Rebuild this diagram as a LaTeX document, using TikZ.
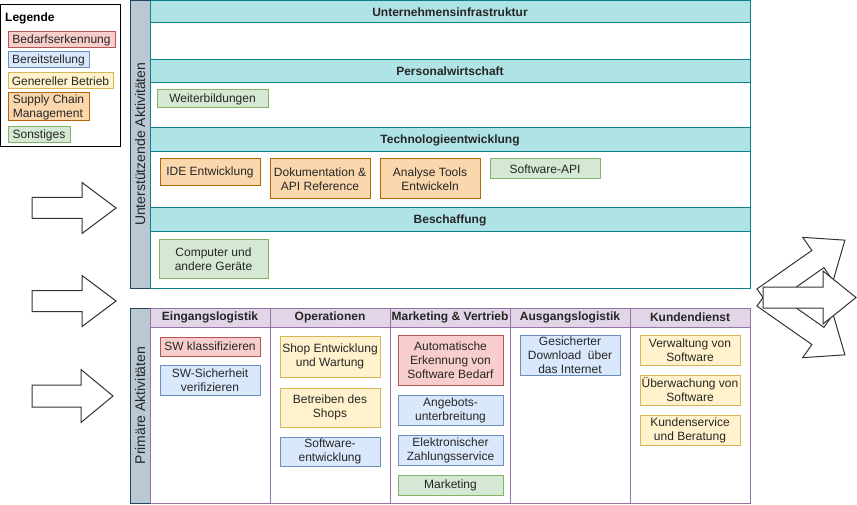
\documentclass[tikz,border=0pt]{standalone}
\usepackage{fontspec}
\setmainfont{Liberation Sans}
\definecolor{redF}{HTML}{F8CECC}\definecolor{redD}{HTML}{B85450}
\definecolor{bluF}{HTML}{DAE8FC}\definecolor{bluD}{HTML}{6C8EBF}
\definecolor{yelF}{HTML}{FFF2CC}\definecolor{yelD}{HTML}{D6B656}
\definecolor{oraF}{HTML}{FAD7AC}\definecolor{oraD}{HTML}{B46504}
\definecolor{grnF}{HTML}{D5E8D4}\definecolor{grnD}{HTML}{82B366}
\definecolor{teaF}{HTML}{B0E3E6}\definecolor{teaD}{HTML}{0E8088}
\definecolor{purF}{HTML}{E1D5E7}\definecolor{purD}{HTML}{9673A6}
\definecolor{barF}{HTML}{BAC8D3}\definecolor{barD}{HTML}{23445D}
\tikzset{
  base/.style={draw, line width=1pt, inner sep=0pt, align=center, anchor=center,
    font=\fontsize{12}{14}\selectfont, text=black!85},
  redbox/.style={base, fill=redF, draw=redD},
  blubox/.style={base, fill=bluF, draw=bluD},
  yelbox/.style={base, fill=yelF, draw=yelD},
  orabox/.style={base, fill=oraF, draw=oraD},
  grnbox/.style={base, fill=grnF, draw=grnD},
  thead/.style={base, fill=teaF, draw=teaD, font=\fontsize{12}{14}\selectfont\bfseries, minimum width=600},
  tbody/.style={base, fill=white, draw=teaD, minimum width=600},
  phead/.style={base, fill=purF, draw=purD, font=\fontsize{12}{14}\selectfont\bfseries, minimum width=120, minimum height=19},
  pbody/.style={base, fill=white, draw=purD, minimum width=120, minimum height=176},
  vbar/.style={base, fill=barF, draw=barD, rotate=90, minimum height=20, font=\fontsize{14}{16}\selectfont},
  barrow/.style={draw=black!80, fill=white, line width=1pt, line join=miter},
}
\newcommand{\blkarrow}[8]{% x,y,rot,L,w,H,h,name
  \begin{scope}[shift={(#1,#2)}, rotate=#3]
    \draw[barrow] (0,-#5/2) -- (#4-#7,-#5/2) -- (#4-#7,-#6/2) -- (#4,0)
      -- (#4-#7,#6/2) -- (#4-#7,#5/2) -- (0,#5/2) -- cycle;
    \coordinate (#8) at (#4/2,0);
  \end{scope}}
\begin{document}
\begin{tikzpicture}[x=1pt,y=-1pt]
\useasboundingbox (0,0) rectangle (857,505);
% legend
\node[base, fill=white, draw=black, minimum width=119.5, minimum height=142] (leg) at (60.25,76) {};
\node[anchor=west, inner sep=0, font=\fontsize{12}{14}\selectfont\bfseries] (legt) at (5,18) {Legende};
\node[redbox, minimum width=107, minimum height=16] (l1) at (61.5,40) {Bedarfserkennung};
\node[blubox, minimum width=81, minimum height=16] (l2) at (48.5,60) {Bereitstellung};
\node[yelbox, minimum width=105, minimum height=16] (l3) at (60.5,81) {Genereller Betrieb};
\node[orabox, minimum width=81, minimum height=28, align=left] (l4) at (48.5,107) {Supply Chain\\Management};
\node[grnbox, minimum width=62, minimum height=16] (l5) at (39,135) {Sonstiges};
% support activities
\node[vbar, minimum width=287.5] (sbar) at (140,144.25) {Unterstützende Aktivitäten};
\node[tbody, minimum height=37] (b1) at (450,41.5) {};
\node[thead, minimum height=22.5] (h1) at (450,11.75) {Unternehmensinfrastruktur};
\node[tbody, minimum height=45] (b2) at (450,105.5) {};
\node[thead, minimum height=23] (h2) at (450,71.5) {Personalwirtschaft};
\node[tbody, minimum height=56] (b3) at (450,180) {};
\node[thead, minimum height=24] (h3) at (450,140) {Technologieentwicklung};
\node[tbody, minimum height=56] (b4) at (450,260) {};
\node[thead, minimum height=24] (h4) at (450,220) {Beschaffung};
\node[grnbox, minimum width=111, minimum height=18] (wb) at (212.5,99) {Weiterbildungen};
\node[orabox, minimum width=100, minimum height=27] (ide) at (210,172.5) {IDE Entwicklung};
\node[orabox, minimum width=100, minimum height=40] (doc) at (320,179) {Dokumentation \&\\API Reference};
\node[orabox, minimum width=100, minimum height=40] (ana) at (430,179) {Analyse Tools\\Entwickeln};
\node[grnbox, minimum width=110, minimum height=20] (api) at (545,169) {Software-API};
\node[grnbox, minimum width=109, minimum height=38] (comp) at (213.5,259) {Computer und\\andere Geräte};
% primary activities
\node[vbar, minimum width=195] (pbar) at (140,405.5) {Primäre Aktivitäten};
\foreach \n/\cx/\t in {c1/210/Eingangslogistik, c2/330/Operationen, c3/450/Marketing \& Vertrieb, c4/570/Ausgangslogistik, c5/690/Kundendienst}{
  \node[pbody] (\n b) at (\cx,415) {};
  \node[phead] (\n h) at (\cx,317.5) {\t};
}
\node[redbox, minimum width=100, minimum height=19] (swk) at (210,346.5) {SW klassifizieren};
\node[blubox, minimum width=100, minimum height=30] (sws) at (210,380) {SW-Sicherheit\\verifizieren};
\node[yelbox, minimum width=100, minimum height=41] (shop) at (330,356.5) {Shop Entwicklung\\und Wartung};
\node[yelbox, minimum width=100, minimum height=39] (betr) at (330,407.5) {Betreiben des\\Shops};
\node[blubox, minimum width=100, minimum height=29] (swe) at (330,451.5) {Software-\\entwicklung};
\node[redbox, minimum width=105, minimum height=50] (auto) at (450.5,360) {Automatische\\Erkennung von\\Software Bedarf};
\node[blubox, minimum width=105, minimum height=30] (ang) at (450.5,410) {Angebots-\\unterbreitung};
\node[blubox, minimum width=105, minimum height=30] (elek) at (450.5,450) {Elektronischer\\Zahlungsservice};
\node[grnbox, minimum width=105, minimum height=20] (mkt) at (450.5,485) {Marketing};
\node[blubox, minimum width=100, minimum height=40] (dl) at (570,355) {Gesicherter\\Download\ \ über\\das Internet};
\node[yelbox, minimum width=100, minimum height=30] (verw) at (690,350) {Verwaltung von\\Software};
\node[yelbox, minimum width=100, minimum height=30] (uebw) at (690,390) {Überwachung von\\Software};
\node[yelbox, minimum width=100, minimum height=30] (kund) at (690,430) {Kundenservice\\und Beratung};
% block arrows
\blkarrow{32}{208}{0}{84}{21}{51}{34}{la1}
\blkarrow{32}{301}{0}{84}{21}{51}{34}{la2}
\blkarrow{32}{396}{0}{81}{22}{53}{32}{la3}
\blkarrow{763}{297.5}{-35}{100}{21}{53}{33}{ra3}
\blkarrow{763}{297.5}{35}{100}{21}{53}{33}{ra1}
\blkarrow{763}{297.5}{0}{93}{21}{53}{33}{ra2}
\end{tikzpicture}
\end{document}
